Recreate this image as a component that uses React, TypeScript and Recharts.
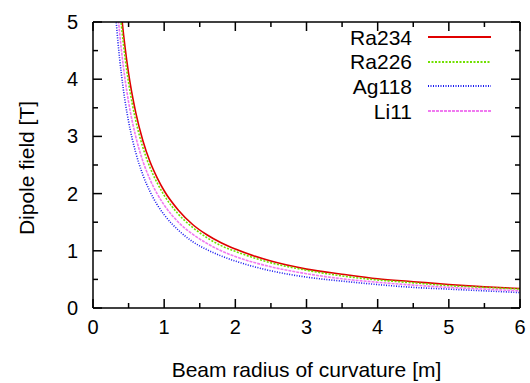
import { LineChart, Line, XAxis, YAxis } from 'recharts';

// beam radius of curvature [m]
const radius = [0.3, 0.35, 0.4, 0.45, 0.5, 0.6, 0.7, 0.8, 0.9, 1.0, 1.2, 1.4, 1.6, 1.8, 2.0, 2.5, 3.0, 3.5, 4.0, 4.5, 5.0, 5.5, 6.0];

// dipole field [T]
const ra234 = [6.83, 5.86, 5.13, 4.56, 4.1, 3.42, 2.93, 2.56, 2.28, 2.05, 1.71, 1.46, 1.28, 1.14, 1.03, 0.82, 0.68, 0.59, 0.51, 0.46, 0.41, 0.37, 0.34];
const ra226 = [6.57, 5.63, 4.93, 4.38, 3.94, 3.28, 2.81, 2.46, 2.19, 1.97, 1.64, 1.41, 1.23, 1.09, 0.99, 0.79, 0.66, 0.56, 0.49, 0.44, 0.39, 0.36, 0.33];
const ag118 = [5.43, 4.66, 4.08, 3.62, 3.26, 2.72, 2.33, 2.04, 1.81, 1.63, 1.36, 1.16, 1.02, 0.91, 0.82, 0.65, 0.54, 0.47, 0.41, 0.36, 0.33, 0.3, 0.27];
const li11 = [6.0, 5.14, 4.5, 4.0, 3.6, 3.0, 2.57, 2.25, 2.0, 1.8, 1.5, 1.29, 1.13, 1.0, 0.9, 0.72, 0.6, 0.51, 0.45, 0.4, 0.36, 0.33, 0.3];

const xTicks = [0, 0.5, 1, 1.5, 2, 2.5, 3, 3.5, 4, 4.5, 5, 5.5, 6];
const yTicks = [0, 0.5, 1, 1.5, 2, 2.5, 3, 3.5, 4, 4.5, 5];

const FONT = '"Liberation Sans", Arial, sans-serif';

const series = [
  { name: 'Ra234', values: ra234, color: '#e00000', dash: undefined },
  { name: 'Ra226', values: ra226, color: '#70e000', dash: '2 1.5' },
  { name: 'Ag118', values: ag118, color: '#1818f0', dash: '1 1.5' },
  { name: 'Li11', values: li11, color: '#f07af0', dash: '3 1' },
];

const toPoints = (vals: number[]) => radius.map((r, i) => ({ r, b: vals[i] }));

const tickLen = (v: number) => (Number.isInteger(v) ? 9 : 5);

// gnuplot-like inward ticks, labels on integers only
function bottomTick(props: any) {
  const { x, y, payload } = props;
  const v = payload.value as number;
  const y0 = y - 10;
  return (
    <g>
      <rect x={x - 0.75} y={y0 - tickLen(v)} width={1.5} height={tickLen(v)} fill="#000" />
      {Number.isInteger(v) && (
        <text x={x} y={y} dy={16} textAnchor="middle" fontSize={20} fontFamily={FONT} fill="#000">{v}</text>
      )}
    </g>
  );
}

function leftTick(props: any) {
  const { x, y, payload } = props;
  const v = payload.value as number;
  const x0 = x + 15;
  return (
    <g>
      <rect x={x0} y={y - 0.75} width={tickLen(v)} height={1.5} fill="#000" />
      {Number.isInteger(v) && (
        <text x={x} y={y} dy={7} textAnchor="end" fontSize={20} fontFamily={FONT} fill="#000">{v}</text>
      )}
    </g>
  );
}

function topTick(props: any) {
  const { x, y, payload } = props;
  const v = payload.value as number;
  return <rect x={x - 0.75} y={y + 10} width={1.5} height={tickLen(v)} fill="#000" />;
}

function rightTick(props: any) {
  const { x, y, payload } = props;
  const v = payload.value as number;
  return <rect x={x - 10 - tickLen(v)} y={y - 0.75} width={tickLen(v)} height={1.5} fill="#000" />;
}

function KeyBox() {
  return (
    <div style={{ position: 'absolute', left: 250, top: 25, width: 241, fontFamily: FONT, fontSize: 21 }}>
      {series.map((s) => (
        <div key={s.name} style={{ display: 'flex', alignItems: 'center', height: 24.6, justifyContent: 'flex-end' }}>
          <span style={{ lineHeight: '21px' }}>{s.name}</span>
          <svg width={63} height={6} style={{ marginLeft: 16 }}>
            <line x1={0} x2={63} y1={3} y2={3} stroke={s.color} strokeWidth={2} strokeDasharray={s.dash} />
          </svg>
        </div>
      ))}
    </div>
  );
}

export default function App() {
  return (
    <div style={{ position: 'absolute', left: 0, top: 0, width: 530, height: 383, background: '#fff' }}>
      <LineChart width={530} height={383} margin={{ top: 21, right: 9, left: 0, bottom: 0 }}>
        <XAxis
          xAxisId="bottom"
          dataKey="r"
          type="number"
          domain={[0, 6]}
          ticks={xTicks}
          interval={0}
          height={75}
          tickSize={0}
          tickMargin={10}
          axisLine={{ stroke: '#000', strokeWidth: 1.5 }}
          tick={bottomTick}
          label={{ value: 'Beam radius of curvature [m]', position: 'insideBottom', offset: 6, fontSize: 21, fontFamily: FONT, fill: '#000' }}
        />
        <XAxis
          xAxisId="top"
          orientation="top"
          dataKey="r"
          type="number"
          domain={[0, 6]}
          ticks={xTicks}
          interval={0}
          height={1}
          tickSize={0}
          tickMargin={10}
          axisLine={{ stroke: '#000', strokeWidth: 1.5 }}
          tick={topTick}
        />
        <YAxis
          yAxisId="left"
          type="number"
          domain={[0, 5]}
          ticks={yTicks}
          interval={0}
          width={93}
          tickSize={0}
          tickMargin={15}
          axisLine={{ stroke: '#000', strokeWidth: 1.5 }}
          tick={leftTick}
          allowDataOverflow
        />
        <YAxis
          yAxisId="right"
          orientation="right"
          type="number"
          domain={[0, 5]}
          ticks={yTicks}
          interval={0}
          width={1}
          tickSize={0}
          tickMargin={10}
          axisLine={{ stroke: '#000', strokeWidth: 1.5 }}
          tick={rightTick}
          allowDataOverflow
        />
        {/* transparent copy so the mirrored frame axes get drawn */}
        <Line
          xAxisId="top"
          yAxisId="right"
          data={toPoints(ra234)}
          dataKey="b"
          stroke="#0a0"
          strokeOpacity={0}
          dot={false}
          isAnimationActive={false}
        />
        {series.map((s) => (
          <Line
            key={s.name}
            xAxisId="bottom"
            yAxisId="left"
            data={toPoints(s.values)}
            dataKey="b"
            type="monotone"
            stroke={s.color}
            strokeWidth={1.6}
            strokeDasharray={s.dash}
            dot={false}
            isAnimationActive={false}
          />
        ))}
      </LineChart>
      <div
        style={{
          position: 'absolute',
          left: 26,
          top: 168,
          transform: 'translate(-50%, -50%) rotate(-90deg)',
          whiteSpace: 'nowrap',
          fontFamily: FONT,
          fontSize: 21,
          lineHeight: 1,
        }}
      >
        Dipole field [T]
      </div>
      <KeyBox />
    </div>
  );
}
